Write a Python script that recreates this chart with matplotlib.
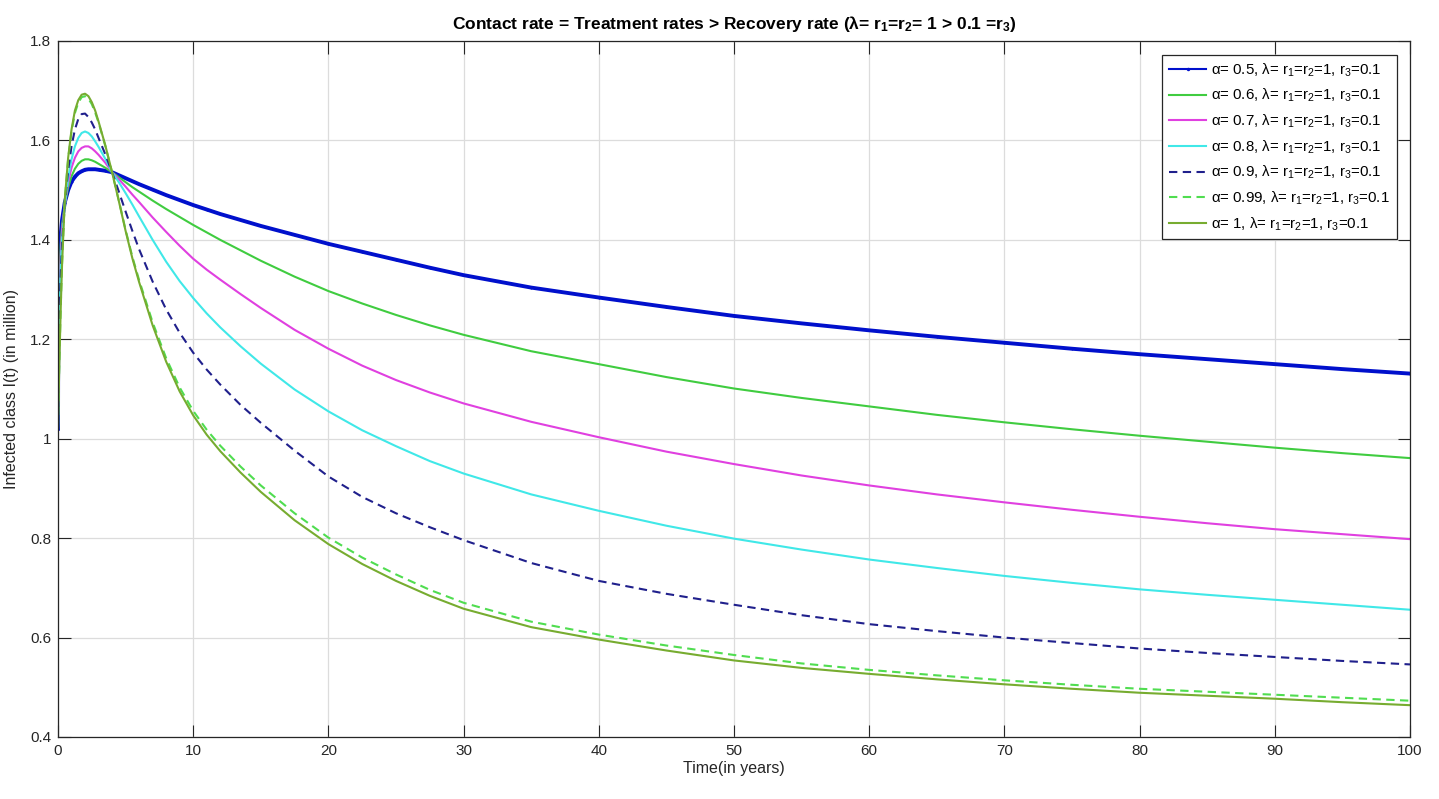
import numpy as np
import matplotlib
matplotlib.use("Agg")
import matplotlib.pyplot as plt

plt.rcParams['font.family'] = ['Liberation Sans', 'DejaVu Sans']
plt.rcParams['mathtext.fontset'] = 'custom'
plt.rcParams['mathtext.rm'] = 'Liberation Sans'
plt.rcParams['mathtext.it'] = 'Liberation Sans:italic'
plt.rcParams['mathtext.bf'] = 'Liberation Sans:bold'

# time grid (years) and values, I(t) in million
t = [0, 0.01, 0.02, 0.05, 0.1, 0.2, 0.3, 0.5, 0.75, 1.0, 1.25, 1.5, 1.75, 2.0, 2.25,
     2.5, 2.75, 3.0, 3.5, 4.0, 4.5, 5, 5.5, 6, 7, 8, 9, 10, 11, 12, 13.5, 15, 17.5,
     20, 22.5, 25, 27.5, 30, 35, 40, 45, 50, 55, 60, 65, 70, 75, 80, 85, 90, 95, 100]

I_a050 = [1.02, 1.127, 1.19, 1.30, 1.36, 1.41, 1.44, 1.475, 1.50, 1.517, 1.527,
          1.534, 1.538, 1.541, 1.542, 1.542, 1.542, 1.541, 1.539, 1.536, 1.530, 1.524,
          1.518, 1.512, 1.501, 1.490, 1.480, 1.470, 1.461, 1.452, 1.440, 1.428, 1.410,
          1.392, 1.376, 1.360, 1.344, 1.329, 1.304, 1.284, 1.265, 1.247, 1.232, 1.218,
          1.205, 1.193, 1.181, 1.170, 1.160, 1.150, 1.140, 1.131]
I_a060 = [1.02, 1.09, 1.15, 1.25, 1.32, 1.39, 1.43, 1.47, 1.505, 1.528, 1.543,
          1.553, 1.559, 1.562, 1.562, 1.560, 1.557, 1.553, 1.545, 1.536, 1.526, 1.516,
          1.506, 1.497, 1.479, 1.462, 1.446, 1.430, 1.415, 1.400, 1.379, 1.358, 1.326,
          1.297, 1.272, 1.249, 1.228, 1.209, 1.176, 1.150, 1.124, 1.101, 1.082, 1.065,
          1.048, 1.033, 1.019, 1.006, 0.994, 0.982, 0.971, 0.961]
I_a070 = [1.02, 1.075, 1.13, 1.22, 1.29, 1.37, 1.42, 1.47, 1.515, 1.545, 1.565,
          1.578, 1.585, 1.588, 1.588, 1.584, 1.578, 1.571, 1.555, 1.536, 1.522, 1.507,
          1.491, 1.476, 1.445, 1.416, 1.388, 1.362, 1.340, 1.320, 1.291, 1.263, 1.219,
          1.181, 1.147, 1.118, 1.093, 1.071, 1.034, 1.003, 0.974, 0.949, 0.926, 0.906,
          0.888, 0.872, 0.857, 0.843, 0.830, 0.818, 0.808, 0.798]
I_a080 = [1.02, 1.07, 1.12, 1.20, 1.27, 1.35, 1.40, 1.47, 1.525, 1.562, 1.588,
          1.605, 1.615, 1.618, 1.615, 1.608, 1.598, 1.587, 1.563, 1.536, 1.516, 1.494,
          1.471, 1.447, 1.400, 1.356, 1.317, 1.283, 1.252, 1.224, 1.186, 1.151, 1.099,
          1.055, 1.017, 0.985, 0.955, 0.930, 0.888, 0.855, 0.825, 0.799, 0.777, 0.757,
          0.740, 0.724, 0.710, 0.697, 0.686, 0.676, 0.666, 0.656]
I_a090 = [1.02, 1.06, 1.10, 1.17, 1.24, 1.33, 1.39, 1.47, 1.54, 1.588, 1.622,
          1.643, 1.653, 1.654, 1.647, 1.636, 1.622, 1.605, 1.572, 1.536, 1.497, 1.457,
          1.418, 1.381, 1.316, 1.260, 1.213, 1.173, 1.139, 1.109, 1.068, 1.032, 0.976,
          0.924, 0.883, 0.850, 0.822, 0.796, 0.750, 0.714, 0.688, 0.666, 0.645, 0.627,
          0.613, 0.600, 0.589, 0.578, 0.569, 0.561, 0.553, 0.546]
I_a099 = [1.02, 1.037, 1.055, 1.095, 1.155, 1.265, 1.352, 1.48, 1.563, 1.618, 1.655,
          1.676, 1.687, 1.689, 1.684, 1.673, 1.656, 1.636, 1.589, 1.536, 1.479, 1.420,
          1.366, 1.319, 1.234, 1.162, 1.103, 1.056, 1.018, 0.986, 0.944, 0.906, 0.850,
          0.801, 0.761, 0.727, 0.696, 0.670, 0.632, 0.606, 0.584, 0.565, 0.548, 0.535,
          0.524, 0.514, 0.505, 0.497, 0.491, 0.485, 0.479, 0.473]
I_a100 = [1.02, 1.035, 1.05, 1.09, 1.15, 1.26, 1.35, 1.48, 1.565, 1.622, 1.66,
          1.681, 1.692, 1.694, 1.689, 1.677, 1.660, 1.638, 1.590, 1.536, 1.478, 1.418,
          1.363, 1.315, 1.228, 1.155, 1.095, 1.047, 1.008, 0.975, 0.932, 0.893, 0.836,
          0.788, 0.748, 0.714, 0.684, 0.658, 0.621, 0.596, 0.574, 0.554, 0.539, 0.527,
          0.516, 0.506, 0.497, 0.489, 0.483, 0.477, 0.470, 0.464]

alphas = ['0.5', '0.6', '0.7', '0.8', '0.9', '0.99', '1']
series = [I_a050, I_a060, I_a070, I_a080, I_a090, I_a099, I_a100]
colors = ['#0010CC', '#40CC40', '#E040E0', '#40E8E8', '#20208C', '#50DD50', '#77AC30']
styles = ['-', '-', '-', '-', '--', '--', '-']
widths = [2.8, 1.5, 1.5, 1.5, 1.5, 1.5, 1.5]

xticks = [0, 10, 20, 30, 40, 50, 60, 70, 80, 90, 100]
yticks = [0.4, 0.6, 0.8, 1.0, 1.2, 1.4, 1.6, 1.8]
ytick_labels = ['0.4', '0.6', '0.8', '1', '1.2', '1.4', '1.6', '1.8']

fig = plt.figure(figsize=(14.39, 7.99), dpi=100)
ax = fig.add_axes([58 / 1439, 1 - 737 / 799, (1410 - 58) / 1439, (737 - 41) / 799])

for a, y, c, ls, lw in zip(alphas, series, colors, styles, widths):
    lab = '\u03b1= ' + a + ', \u03bb= r$_1$=r$_2$=1, r$_3$=0.1'
    kw = {}
    if a == '0.5':
        kw = dict(marker='.', markersize=3, markeredgewidth=0)
    line, = ax.plot(t, y, color=c, linestyle=ls, linewidth=lw, label=lab, **kw)
    if ls == '--':
        line.set_dashes((4, 2.6))

ax.set_xlim(0, 100)
ax.set_ylim(0.4, 1.8)
ax.set_xticks(xticks)
ax.set_yticks(yticks)
ax.set_yticklabels(ytick_labels)
ax.grid(True, color='#DCDCDC', linewidth=0.9)
ax.set_axisbelow(True)
ax.tick_params(direction='in', length=9, width=0.8, top=True, right=True,
               labelsize=11, colors='#262626', pad=5)
for s in ax.spines.values():
    s.set_color('#262626')
    s.set_linewidth(0.9)

ax.set_xlabel('Time(in years)', fontsize=11.5, color='#262626', labelpad=2)
ax.set_ylabel('Infected class I(t) (in million)', fontsize=11.5, color='#262626', labelpad=8)
ax.set_title(r'Contact rate = Treatment rates > Recovery rate ($\mathbf{\lambda}$= r$_\mathbf{1}$=r$_\mathbf{2}$= 1 > 0.1 =r$_\mathbf{3}$)',
             fontsize=12.5, fontweight='bold', pad=9)

leg = ax.legend(loc='upper right', fontsize=10.8, frameon=True, fancybox=False,
                edgecolor='#262626', framealpha=1, handlelength=2.5, handletextpad=0.3,
                labelspacing=0.55, borderpad=0.45, borderaxespad=0.9)
leg.get_frame().set_linewidth(0.9)
leg.legend_handles[0].set_linewidth(1.5)
leg.legend_handles[0].set_markersize(5)

fig.savefig('out.png', dpi=100, facecolor='white')
